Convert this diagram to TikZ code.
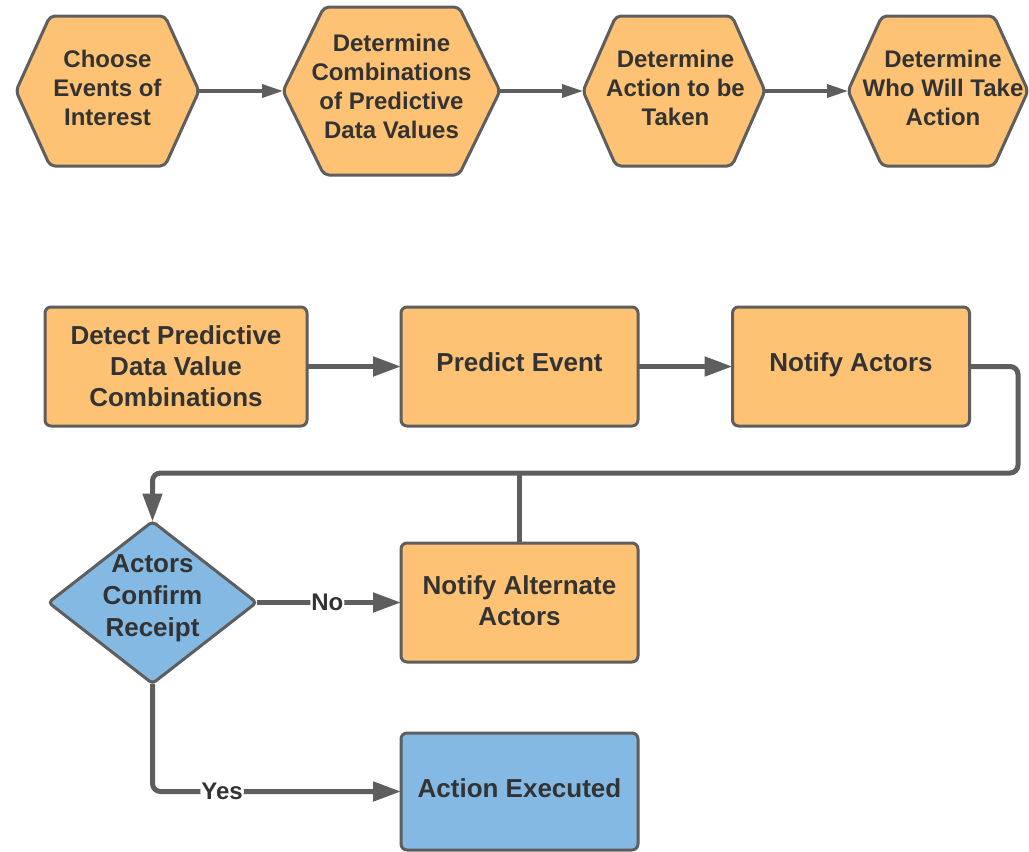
\documentclass[tikz,border=0pt]{standalone}
\usepackage{fontspec}
\setmainfont{Liberation Sans}
\usetikzlibrary{arrows.meta,backgrounds,calc}
\definecolor{orf}{HTML}{FDC273}
\definecolor{blf}{HTML}{83B9E3}
\definecolor{edgec}{HTML}{5E5E5E}
\definecolor{txt}{HTML}{333333}
\tikzset{
  hexnode/.style={inner sep=0pt, outer sep=0pt, align=center, text=txt,
    font=\bfseries\fontsize{24}{29}\selectfont},
  hexline/.style={draw=edgec, line width=3pt, fill=orf, rounded corners=5pt},
  boxnode/.style={draw=edgec, line width=3pt, fill=orf, rounded corners=6pt,
    align=center, text=txt, inner sep=0pt, outer sep=0pt,
    font=\bfseries\fontsize{26}{31}\selectfont,
    minimum width=237pt, minimum height=119pt},
  decnode/.style={inner sep=0pt, outer sep=0pt, align=center, text=txt,
    font=\bfseries\fontsize{26}{32}\selectfont,
    minimum width=208pt, minimum height=162pt},
  conna/.style={draw=edgec, line width=3.5pt, -{Triangle[length=21pt,width=13pt]}},
  connb/.style={draw=edgec, line width=5pt, rounded corners=8pt, -{Triangle[length=28pt,width=19pt]}},
  connplain/.style={draw=edgec, line width=5pt, rounded corners=8pt},
  lbl/.style={fill=white, inner sep=1pt, text=txt, font=\bfseries\fontsize{24}{28}\selectfont}
}
\begin{document}
\begin{tikzpicture}[x=1pt,y=-1pt]
\useasboundingbox (0,0) rectangle (1029,852);
% top row hexagons
\node[hexnode, minimum width=183pt, minimum height=150pt] (h1) at (107.5,91) {};
\node[hexnode, minimum width=217pt, minimum height=168pt] (h2) at (391.5,91) {};
\node[hexnode, minimum width=182pt, minimum height=150pt] (h3) at (674,91) {};
\node[hexnode, minimum width=180pt, minimum height=150pt] (h4) at (938,91) {};
\foreach \n/\d in {h1/34,h2/41,h3/33,h4/34}{
  \draw[hexline] (\n.west) -- ([xshift=\d pt]\n.north west) -- ([xshift=-\d pt]\n.north east)
     -- (\n.east) -- ([xshift=-\d pt]\n.south east) -- ([xshift=\d pt]\n.south west) -- cycle;
}
\node[hexnode] (t1) at (107.5,87.5) {Choose\\Events of\\Interest};
\node[hexnode] (t2) at (391.5,86.5) {Determine\\Combinations\\of Predictive\\Data Values};
\node[hexnode] (t3) at (675.5,87.5) {Determine\\Action to be\\Taken};
\node[hexnode] (t4) at (943,87.5) {Determine\\Who Will Take\\Action};
\draw[conna] (h1.east) -- (h2.west);
\draw[conna] (h2.east) -- (h3.west);
\draw[conna] (h3.east) -- (h4.west);
% second row
\node[boxnode, minimum width=262pt] (r1) at (176,366.5) {Detect Predictive\\Data Value\\Combinations};
\node[boxnode, text depth=8pt] (r2) at (519.5,366.5) {Predict Event};
\node[boxnode, text depth=9.5pt] (r3) at (851,366.5) {Notify Actors};
% decision
\node[decnode] (d) at (152.5,602.5) {};
\draw[draw=edgec, line width=3pt, fill=blf, rounded corners=4pt]
  (d.north) -- (d.east) -- (d.south) -- (d.west) -- cycle;
\node[decnode, minimum width=0pt, minimum height=0pt] (dt) at (152.5,598.5) {Actors\\Confirm\\Receipt};
\node[boxnode, text depth=4pt] (r4) at (519.5,602.5) {Notify Alternate\\Actors};
\node[boxnode, fill=blf, minimum height=117pt, text depth=6pt] (r5) at (519.5,791.5) {Action Executed};
% connectors
\coordinate (j) at (1018,473);
\draw[connb] (r1.east) -- (r2.west);
\draw[connb] (r2.east) -- (r3.west);
\draw[connb] (r3.east) -| (j) -| (d.north);
\draw[connplain] (r4.north) -- (r4.north |- j);
\draw[connb] (d.east) -- node[lbl, pos=0.49] {No} (r4.west);
\draw[connb] (d.south) |- node[lbl, pos=0.64] {Yes} (r5.west);
\end{tikzpicture}
\end{document}
